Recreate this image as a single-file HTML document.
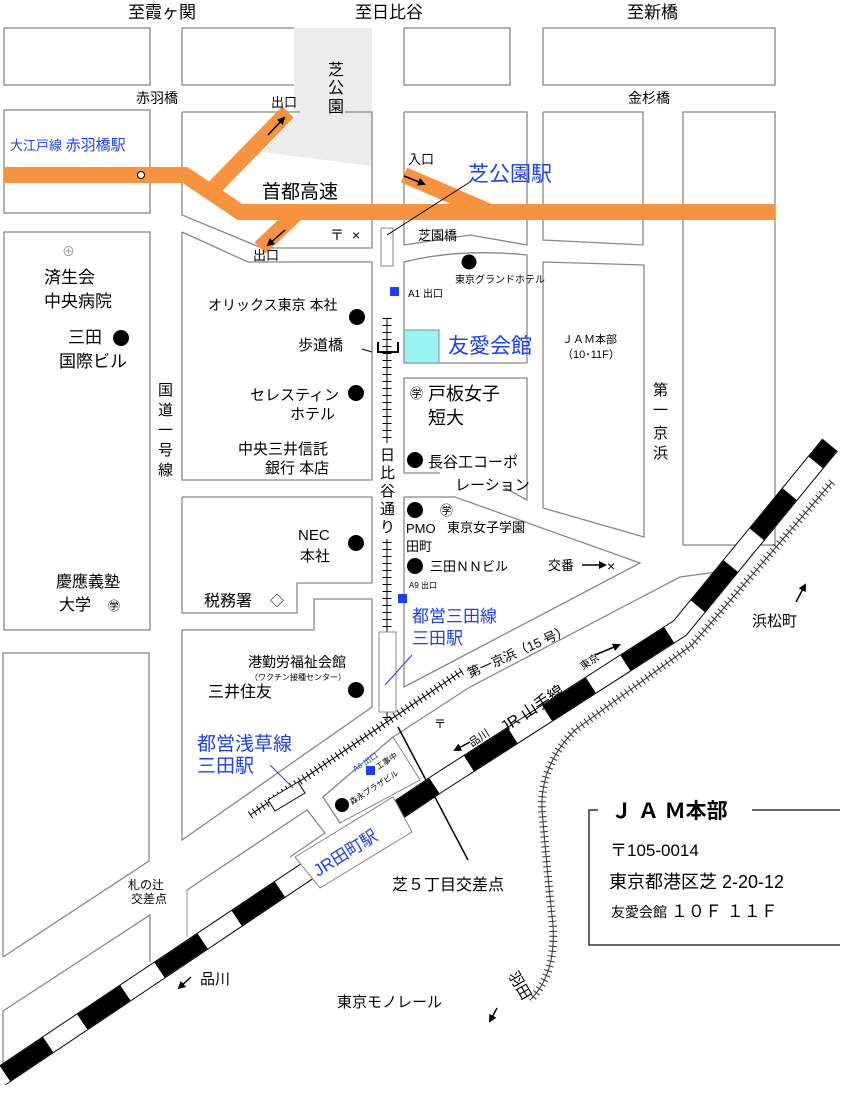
<!DOCTYPE html>
<html><head><meta charset="utf-8"><style>
html,body{margin:0;padding:0;background:#fff}
svg{display:block}
text{font-family:"Liberation Sans","Noto Sans CJK JP",sans-serif;fill:#000}
</style></head><body>
<svg width="863" height="1095" viewBox="0 0 863 1095" xmlns="http://www.w3.org/2000/svg">
<defs>
<marker id="ah" markerWidth="8" markerHeight="8" refX="6" refY="4" orient="auto" markerUnits="userSpaceOnUse">
<path d="M0,0 L8,4 L0,8 Z" fill="#000"/></marker>
</defs>
<polygon points="294,28 372,28 372,166 262,152 300,112 294,112" fill="#ececec"/>
<g fill="none" stroke="#888" stroke-width="1.3">
<rect x="4" y="28" width="146" height="57"/>
<polyline points="294,28 182,28 182,85 294,85"/>
<rect x="404" y="28" width="106" height="57"/>
<rect x="543" y="28" width="232" height="57"/>
<rect x="4" y="110" width="146" height="103"/>
<polyline points="182,112 300,112"/>
<polyline points="345,112 372,112 372,248 262,248 182,215 182,112"/>
<polyline points="404,112 527,112 527,245 470,235 404,245 404,112" />
<polyline points="543,112 643,112 643,245 543,240 543,112"/>
<rect x="683" y="112" width="92" height="433"/>
<rect x="4" y="232" width="146" height="398"/>
<polyline points="3,957 3,653 149,653 149,861 3,957"/>
<polyline points="3,1063 3,1011 150,915 150,962"/>
<polyline points="182,232 248,262 372,262 372,480 182,480 182,232"/>
<polyline points="182,497 372,497 372,583 297,583 297,613 182,613 182,497"/>
<polyline points="314,630 314,599 372,599 372,707 182,840 182,630 314,630"/>
<path d="M404,262 Q460,248 527,255 L527,363 L404,363 Z"/>
<polyline points="440,473 404,473 404,378 527,378 527,500 505,488"/>
<polyline points="543,262 644,265 644,537 543,508 543,262"/>
<polyline points="404,497 455,497 640,563 404,687 404,497"/>
<polyline points="340,823 323,797 393,737 470,687 680,577 717,572"/>
<polyline points="187,890 307,810 325,833 290,857"/>
<line x1="187" y1="890" x2="187" y2="937" stroke="#aaa"/>
</g>
<g fill="none" stroke="#f7923f" stroke-width="16" stroke-linejoin="miter">
<polyline points="4,175 185,175 240,212 775,212"/>
<line x1="212" y1="190" x2="288" y2="112"/>
<line x1="260" y1="248" x2="298" y2="212"/>
<line x1="404" y1="175" x2="490" y2="212"/>
</g>
<circle cx="141" cy="175" r="3.5" fill="#fff" stroke="#000"/>
<line x1="387" y1="318" x2="387" y2="720" stroke="#000" stroke-width="1"/>
<line x1="387" y1="318" x2="387" y2="720" stroke="#000" stroke-width="9" stroke-dasharray="1 6"/>
<rect x="378" y="443" width="19" height="96" fill="#fff"/>
<rect x="381" y="228" width="12" height="38" fill="#fff" stroke="#888"/>
<rect x="379" y="632" width="17" height="80" fill="#fff" stroke="#888"/>
<g stroke="#000">
<line x1="250" y1="815" x2="462" y2="671" stroke-width="1"/>
<line x1="250" y1="815" x2="462" y2="671" stroke-width="8" stroke-dasharray="1 4"/>
</g>
<polygon points="268,800 298,782 305,793 275,811" fill="#fff" stroke="#000"/>
<g fill="none" stroke="#333">
<path d="M832,482 L692,645 L575,730 Q540,765 542,810 Q548,880 553,925 Q556,975 530,1000" stroke-width="1"/>
<path d="M832,482 L692,645 L575,730 Q540,765 542,810 Q548,880 553,925 Q556,975 530,1000" stroke-width="8" stroke-dasharray="1 4"/>
</g>
<g fill="none" stroke-linejoin="miter">
<polyline points="0,1077 440,782 680,628 830,445" stroke="#000" stroke-width="20"/>
<polyline points="0,1077 440,782 680,628 830,445" stroke="#fff" stroke-width="18"/>
<polyline points="0,1077 440,782 680,628 830,445" stroke="#000" stroke-width="18" stroke-dasharray="52 41" stroke-dashoffset="87"/>
</g>
<polygon points="323,797 393,737 420,780 340,823" fill="none" stroke="#888"/>
<polygon points="295,857 393,797 412,832 320,888" fill="#fff" stroke="#888"/>
<text x="0" y="0" font-size="17" style="fill:#1a3fff" transform="translate(318,877) rotate(-32)">JR田町駅</text>
<g stroke="#000" fill="none" stroke-width="1">
<line x1="387" y1="235" x2="470" y2="182"/>
<line x1="398" y1="727" x2="468" y2="860" stroke-width="1.5"/>
<polyline points="362,349 372,352"/>
<polyline points="378,342 378,352 398,352 398,342" stroke-width="2"/>
</g>
<line x1="385" y1="685" x2="412" y2="655" stroke="#1a3fff"/>
<line x1="270" y1="765" x2="293" y2="788" stroke="#1a3fff"/>
<g fill="#1a3fff"><rect x="390" y="287" width="9" height="9"/><rect x="398" y="594" width="9" height="9"/><rect x="366" y="766" width="9" height="9"/></g>
<rect x="404" y="330" width="35" height="33" fill="#9af3f3" stroke="#888"/>
<g fill="#000">
<circle cx="469" cy="262" r="7.5"/><circle cx="357" cy="317" r="8"/><circle cx="121" cy="338" r="8"/>
<circle cx="356" cy="393" r="8"/><circle cx="415" cy="460" r="8"/><circle cx="356" cy="543" r="8"/>
<circle cx="415" cy="510" r="8"/><circle cx="415" cy="566" r="8"/><circle cx="356" cy="690" r="8"/><circle cx="342" cy="805" r="7"/>
</g>
<g stroke="#000" stroke-width="1.5" fill="none" marker-end="url(#ah)">
<line x1="268" y1="135" x2="284" y2="118"/><line x1="285" y1="230" x2="268" y2="245"/>
<line x1="404" y1="176" x2="424" y2="184"/><line x1="582" y1="565" x2="605" y2="565"/>
<line x1="796" y1="602" x2="805" y2="585"/><line x1="191" y1="977" x2="179" y2="988"/>
<line x1="470" y1="742" x2="455" y2="750"/><line x1="595" y1="655" x2="619" y2="645"/>
<line x1="497" y1="1008" x2="490" y2="1021"/>
</g>
<g font-size="17">
<text x="128" y="18">至霞ヶ関</text><text x="355" y="18">至日比谷</text><text x="627" y="18">至新橋</text>
</g>
<text x="136" y="103" font-size="14">赤羽橋</text><text x="628" y="103" font-size="14">金杉橋</text>
<text x="271" y="107" font-size="13">出口</text>
<text x="328" y="75" font-size="16">芝</text><text x="328" y="93" font-size="16">公</text><text x="328" y="112" font-size="16">園</text>
<text x="10" y="150" font-size="13" style="fill:#1a3fff">大江戸線 <tspan font-size="15">赤羽橋駅</tspan></text>
<text x="408" y="164" font-size="13">入口</text>
<text x="468" y="181" font-size="21" style="fill:#1a3fff">芝公園駅</text>
<text x="262" y="198" font-size="19">首都高速</text>
<text x="330" y="240" font-size="14">〒</text><text x="352" y="240" font-size="14">×</text>
<text x="418" y="240" font-size="13">芝園橋</text>
<text x="253" y="260" font-size="13">出口</text>
<text x="455" y="283" font-size="10">東京グランドホテル</text>
<text x="408" y="297" font-size="10">A1 出口</text>
<text x="208" y="310" font-size="14">オリックス東京 本社</text>
<text x="298" y="350" font-size="15">歩道橋</text>
<text x="448" y="353" font-size="21" style="fill:#1a3fff">友愛会館</text>
<text x="562" y="343" font-size="11">ＪＡＭ本部</text><text x="562" y="358" font-size="11">（10･11F）</text>
<text x="44" y="283" font-size="17">済生会</text><text x="44" y="307" font-size="17">中央病院</text>
<text x="68" y="343" font-size="17">三田</text><text x="59" y="367" font-size="17">国際ビル</text>
<text x="250" y="400" font-size="15">セレスティン</text><text x="290" y="419" font-size="15">ホテル</text>
<text x="238" y="454" font-size="15">中央三井信託</text><text x="265" y="473" font-size="15">銀行 本店</text>
<g font-size="15"><text x="158" y="395">国</text><text x="158" y="415">道</text><text x="158" y="435">一</text><text x="158" y="455">号</text><text x="158" y="475">線</text></g>
<g font-size="15"><text x="380" y="460">日</text><text x="380" y="478">比</text><text x="380" y="496">谷</text><text x="380" y="514">通</text><text x="380" y="532">り</text></g>
<g font-size="15"><text x="653" y="395">第</text><text x="653" y="415">一</text><text x="653" y="438">京</text><text x="653" y="458">浜</text></g>
<text x="410" y="398" font-size="13">㊫</text>
<text x="428" y="400" font-size="18">戸板女子</text><text x="428" y="424" font-size="18">短大</text>
<text x="428" y="467" font-size="15">長谷工コーポ</text><text x="455" y="490" font-size="15">レーション</text>
<text x="298" y="540" font-size="15">NEC</text><text x="300" y="561" font-size="15">本社</text>
<text x="440" y="515" font-size="13">㊫</text>
<text x="406" y="533" font-size="13">PMO</text><text x="447" y="532" font-size="13">東京女子学園</text>
<text x="406" y="551" font-size="13">田町</text>
<text x="430" y="571" font-size="13">三田ＮＮビル</text>
<text x="548" y="570" font-size="13">交番</text><text x="607" y="571" font-size="14">×</text>
<text x="409" y="588" font-size="8">A9 出口</text>
<text x="56" y="587" font-size="16">慶應義塾</text><text x="59" y="610" font-size="16">大学</text><text x="108" y="610" font-size="12">㊫</text>
<text x="204" y="606" font-size="16">税務署</text><text x="270" y="606" font-size="14">◇</text>
<text x="412" y="622" font-size="17" style="fill:#1a3fff">都営三田線</text><text x="412" y="644" font-size="17" style="fill:#1a3fff">三田駅</text>
<text x="0" y="0" font-size="13" transform="translate(470,678) rotate(-24)">第一京浜（15 号）</text>
<text x="248" y="667" font-size="14">港勤労福祉会館</text><text x="250" y="680" font-size="8">（ワクチン接種センター）</text>
<text x="208" y="697" font-size="16">三井住友</text>
<text x="197" y="750" font-size="19" style="fill:#1a3fff">都営浅草線</text><text x="197" y="772" font-size="19" style="fill:#1a3fff">三田駅</text>
<text x="434" y="728" font-size="12">〒</text>
<text x="0" y="0" font-size="16" transform="translate(505,733) rotate(-33)">JR 山手線</text>
<text x="0" y="0" font-size="10" transform="translate(583,670) rotate(-33)">東京</text>
<text x="0" y="0" font-size="11" transform="translate(472,747) rotate(-33)">品川</text>
<text x="0" y="0" font-size="8" style="fill:#1a3fff" transform="translate(355,772) rotate(-33)">A6 出口</text>
<text x="0" y="0" font-size="8" transform="translate(378,770) rotate(-33)">工事中</text>
<text x="0" y="0" font-size="8" transform="translate(352,805) rotate(-33)">森永プラザビル</text>
<text x="752" y="626" font-size="15">浜松町</text>
<text x="392" y="890" font-size="16">芝５丁目交差点</text>
<text x="128" y="889" font-size="12">札の辻</text><text x="131" y="903" font-size="12">交差点</text>
<text x="200" y="984" font-size="15">品川</text>
<text x="337" y="1007" font-size="15">東京モノレール</text>
<text x="0" y="0" font-size="15" transform="translate(508,975) rotate(60)">羽田</text>
<polyline points="598,810 589,810 589,945 840,945" fill="none" stroke="#333" stroke-width="1.5"/>
<line x1="752" y1="810" x2="840" y2="810" stroke="#333" stroke-width="1.5"/>
<text x="611" y="818" font-size="21" font-weight="bold">Ｊ Ａ Ｍ本部</text>
<text x="610" y="856" font-size="17">〒105-0014</text>
<text x="609" y="888" font-size="18">東京都港区芝 2-20-12</text>
<text x="611" y="917" font-size="14">友愛会館 <tspan font-size="17">１０Ｆ １１Ｆ</tspan></text>
<text x="62" y="256" font-size="13" style="fill:#999">⊕</text>
</svg>
</body></html>
